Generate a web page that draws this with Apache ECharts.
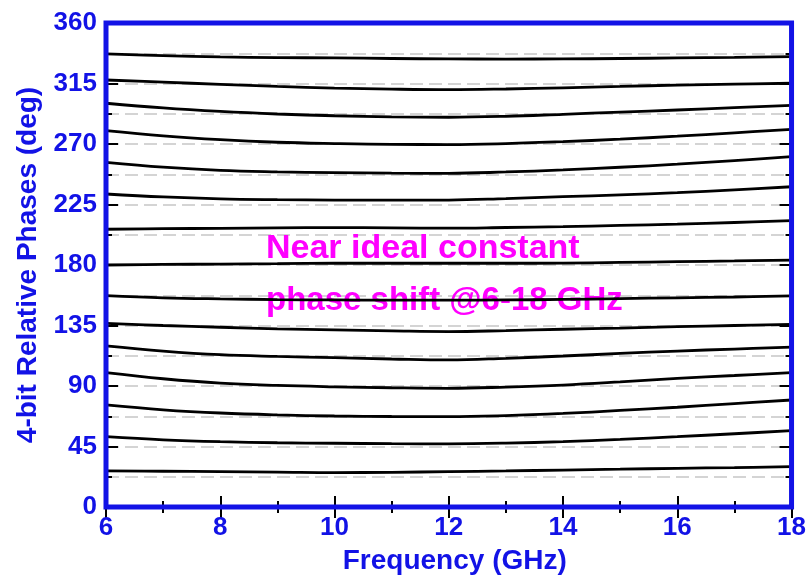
<!DOCTYPE html>
<html>
<head>
<meta charset="utf-8">
<script src="https://cdn.jsdelivr.net/npm/echarts@6/dist/echarts.min.js"></script>
<style>
  html, body { margin: 0; padding: 0; background: #ffffff; }
  #chart { width: 809px; height: 582px; }
</style>
</head>
<body>
<div id="chart"></div>
<script>
// Frequency sweep (GHz)
const freqs = [6, 7, 8, 9, 10, 11, 12, 13, 14, 15, 16, 17, 18];

// Measured relative phase of each of the 15 non-reference states (deg)
const phase337 = [337.0, 335.8, 334.8, 334.3, 334.0, 333.6, 333.3, 333.2, 333.3, 333.6, 334.0, 334.4, 335.0];
const phase315 = [317.6, 316.0, 314.4, 312.8, 311.6, 310.8, 310.4, 310.9, 311.8, 312.8, 313.8, 314.5, 315.2];
const phase292 = [300.3, 296.8, 294.2, 292.3, 291.0, 290.2, 289.9, 290.6, 292.1, 293.7, 295.3, 297.0, 298.8];
const phase270 = [279.9, 276.0, 273.2, 271.3, 270.3, 269.7, 269.6, 270.3, 271.7, 273.6, 275.8, 278.3, 280.9];
const phase247 = [256.4, 252.8, 250.4, 249.3, 248.7, 248.3, 248.2, 249.2, 250.7, 252.7, 255.0, 257.7, 260.6];
const phase225 = [232.8, 230.6, 229.2, 228.6, 228.3, 228.2, 228.3, 229.4, 230.8, 232.2, 233.8, 235.9, 238.2];
const phase202 = [206.6, 207.0, 207.3, 207.6, 207.8, 207.6, 207.4, 207.9, 208.5, 209.4, 210.4, 211.6, 213.0];
const phase180 = [180.0, 180.4, 180.7, 181.0, 181.3, 181.3, 181.3, 181.3, 181.4, 181.9, 182.5, 183.0, 183.7];
const phase157 = [157.2, 155.6, 154.8, 154.3, 154.0, 153.8, 153.8, 154.0, 154.4, 155.0, 155.6, 156.2, 157.0];
const phase135 = [136.6, 135.0, 133.7, 132.5, 131.7, 131.0, 130.5, 131.2, 132.2, 133.1, 134.1, 135.0, 135.9];
const phase112 = [119.8, 116.0, 113.3, 112.0, 111.1, 110.1, 109.4, 110.6, 112.3, 114.2, 116.0, 117.5, 118.9];
const phase090 = [99.9, 95.4, 92.1, 90.4, 89.4, 88.7, 88.3, 89.2, 90.7, 93.0, 95.6, 97.8, 100.0];
const phase067 = [75.9, 72.3, 69.9, 68.5, 67.7, 67.3, 67.2, 68.0, 69.6, 71.8, 74.2, 76.9, 79.6];
const phase045 = [52.3, 50.0, 48.6, 47.8, 47.4, 47.1, 47.0, 47.5, 48.6, 50.3, 52.3, 54.5, 56.8];
const phase022 = [26.8, 26.6, 26.3, 26.0, 25.6, 25.8, 26.3, 26.8, 27.5, 28.1, 28.8, 29.3, 30.0];

const allStates = [phase337, phase315, phase292, phase270, phase247, phase225, phase202,
  phase180, phase157, phase135, phase112, phase090, phase067, phase045, phase022];

// Axis ticks
const xTicks = [6, 8, 10, 12, 14, 16, 18];
const yTicks = [0, 45, 90, 135, 180, 225, 270, 315, 360];

const titleText = '4-bit Relative Phases (deg)';
const xTitleText = 'Frequency (GHz)';
const noteLine1 = 'Near ideal constant';
const noteLine2 = 'phase shift @6-18 GHz';

const BLUE = '#1212e6';
const FONT = "'Liberation Sans', Arial, sans-serif";

const chart = echarts.init(document.getElementById('chart'), null, { renderer: 'canvas' });

const dashed = { show: true, lineStyle: { color: '#c6c6c6', width: 1.5, type: [13, 6] } };
const tickStyle = { color: '#000000', width: 2 };

const baseX = {
  type: 'value', min: xTicks[0], max: xTicks[xTicks.length - 1], interval: 2,
  axisLine: { show: false },
  axisTick: { show: true, inside: true, length: 11, lineStyle: tickStyle },
  minorTick: { show: true, splitNumber: 2, length: 6, lineStyle: tickStyle },
  splitLine: { show: false }
};
const baseY = {
  type: 'value', min: yTicks[0], max: yTicks[yTicks.length - 1], interval: 45,
  axisLine: { show: false },
  axisTick: { show: true, inside: true, length: 12, lineStyle: tickStyle },
  minorTick: { show: true, splitNumber: 2, length: 6, lineStyle: tickStyle },
  splitLine: dashed,
  minorSplitLine: dashed
};

chart.setOption({
  animation: false,
  backgroundColor: '#ffffff',
  grid: {
    left: 106, right: 17, top: 23, bottom: 75,
    show: true, borderColor: BLUE, borderWidth: 5, backgroundColor: 'transparent', z: 3
  },
  xAxis: [
    Object.assign({}, baseX, {
      position: 'bottom',
      axisLabel: { show: true, margin: 8, color: BLUE, fontSize: 26, fontWeight: 'bold', fontFamily: FONT },
      name: xTitleText, nameLocation: 'middle', nameGap: 40,
      nameTextStyle: { color: BLUE, fontSize: 28, fontWeight: 'bold', fontFamily: FONT, padding: [0, 0, 0, 12] }
    }),
    Object.assign({}, baseX, { position: 'top', axisLabel: { show: false } })
  ],
  yAxis: [
    Object.assign({}, baseY, {
      position: 'left',
      axisLabel: { show: true, margin: 9, color: BLUE, fontSize: 26, fontWeight: 'bold', fontFamily: FONT },
      name: titleText, nameLocation: 'middle', nameGap: 64, nameRotate: 90,
      nameTextStyle: { color: BLUE, fontSize: 28, fontWeight: 'bold', fontFamily: FONT }
    }),
    Object.assign({}, baseY, {
      position: 'right', axisLabel: { show: false },
      splitLine: { show: false }, minorSplitLine: { show: false }
    })
  ],
  graphic: [
    {
      type: 'text', left: 266, top: 232, z: 1,
      style: { text: noteLine1, fill: '#ff00ff', font: 'bold 34px ' + FONT }
    },
    {
      type: 'text', left: 266, top: 284, z: 1,
      style: { text: noteLine2, fill: '#ff00ff', font: 'bold 33px ' + FONT }
    }
  ],
  series: allStates.map(function (vals) {
    return {
      type: 'line',
      xAxisIndex: 0, yAxisIndex: 0,
      data: freqs.map(function (f, i) { return [f, vals[i]]; }),
      smooth: 0.4,
      showSymbol: false,
      lineStyle: { color: '#000000', width: 2.8 },
      z: 2
    };
  })
});
</script>
</body>
</html>
